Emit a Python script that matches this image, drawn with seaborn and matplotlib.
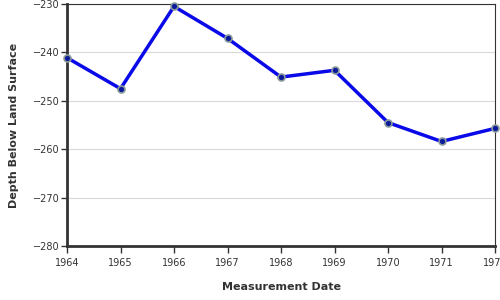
import matplotlib
matplotlib.use("Agg")
import matplotlib.pyplot as plt
import seaborn as sns
import pandas as pd

years = [1964, 1965, 1966, 1967, 1968, 1969, 1970, 1971, 1972]
depth = [-241.1, -247.5, -230.5, -237.1, -245.1, -243.7, -254.5, -258.4, -255.7]
y_ticks = [-280, -270, -260, -250, -240, -230]

sns.set_style("white")
plt.rcParams['font.family'] = ['DejaVu Sans']

df = pd.DataFrame({"year": years, "depth": depth})
fig = plt.figure(figsize=(5, 3), dpi=100)
ax = fig.add_axes([0.134, 0.18, 0.856, 0.8067])

for yt in y_ticks:
    ax.axhline(yt, color="#d9d9d9", lw=0.8, zorder=0)

sns.lineplot(data=df, x="year", y="depth", ax=ax, color="#0a0ae8", lw=2.5,
             marker="o", markersize=5, markerfacecolor="#0a1a9a",
             markeredgecolor="#8a9a9a", markeredgewidth=1.2, zorder=3, clip_on=False)

ax.set_xlim(1964, 1972)
ax.set_ylim(-280, -230)
ax.set_xticks(years)
ax.set_xticklabels([str(y) for y in years])
ax.set_yticks(y_ticks)
ax.tick_params(axis="x", direction="out", length=5, width=1, color="#333333",
               labelsize=7, labelcolor="#333333", pad=4, bottom=True)
ax.tick_params(axis="y", direction="out", length=4, width=1, color="#333333",
               labelsize=7, labelcolor="#333333", pad=1, left=True)
for side in ["top", "right"]:
    ax.spines[side].set_linewidth(0.8)
    ax.spines[side].set_color("#333333")
for side in ["left", "bottom"]:
    ax.spines[side].set_linewidth(2)
    ax.spines[side].set_color("#333333")

ax.set_xlabel("Measurement Date", fontsize=8, fontweight="bold", color="#333333", labelpad=10)
ax.set_ylabel("Depth Below Land Surface", fontsize=8, fontweight="bold", color="#333333", labelpad=10)

fig.savefig("out.png", dpi=100)
